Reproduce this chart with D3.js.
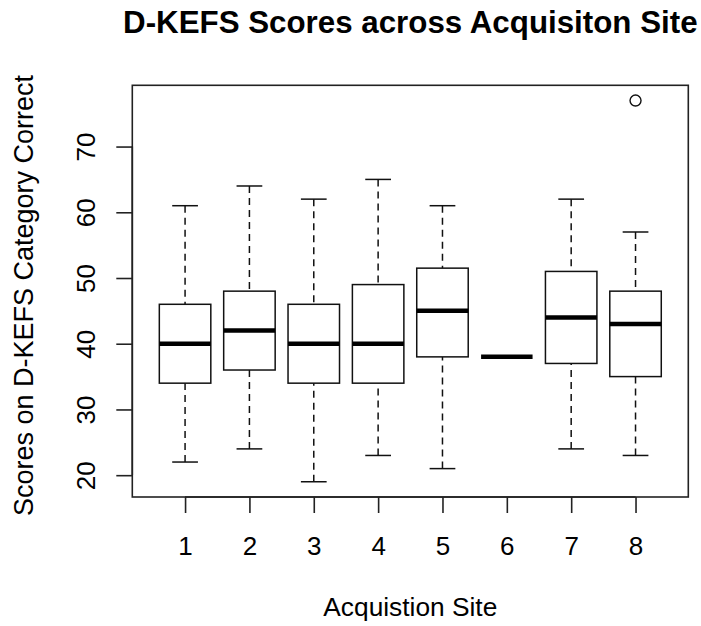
<!DOCTYPE html>
<html>
<head>
<meta charset="utf-8">
<script src="https://cdn.jsdelivr.net/npm/d3@7"></script>
<style>
  html, body { margin: 0; padding: 0; background: #fff; }
  svg { display: block; }
  text { font-family: "Liberation Sans", Arial, Helvetica, sans-serif; fill: #000; }
</style>
</head>
<body>
<svg id="chart" width="701" height="626"></svg>
<script>
// ---- data ----
const sites = ["1", "2", "3", "4", "5", "6", "7", "8"];
const lowerWhisker = [22, 24, 19, 23, 21, 38, 24, 23];
const q1 = [34, 36, 34, 34, 38, 38, 37, 35];
const median = [40, 42, 40, 40, 45, 38, 44, 43];
const q3 = [46, 48, 46, 49, 51.5, 38, 51, 48];
const upperWhisker = [61, 64, 62, 65, 61, 38, 62, 57];
const outlierSite = ["8"];
const outlierValue = [77];
const yTicks = [20, 30, 40, 50, 60, 70];
const titleText = "D-KEFS Scores across Acquisiton Site";
const xLabel = "Acquistion Site";
const yLabel = "Scores on D-KEFS Category Correct";

// ---- layout ----
const plot = { left: 132.3, right: 688.3, top: 85.3, bottom: 497 };
const svg = d3.select("#chart");

const n = sites.length;
const xPad = n * 0.04;
const x = d3.scaleLinear()
  .domain([0.5 - xPad, n + 0.5 + xPad])
  .range([plot.left, plot.right]);
const xi = i => x(i + 1);

const allVals = lowerWhisker.concat(upperWhisker, outlierValue);
const yMin = d3.min(allVals), yMax = d3.max(allVals);
const yPad = (yMax - yMin) * 0.04;
const y = d3.scaleLinear()
  .domain([yMin - yPad, yMax + yPad])
  .range([plot.bottom, plot.top]);

const boxW = x(0.8) - x(0);
const capW = x(0.4) - x(0);
const stroke = "#111";

const rows = sites.map((s, i) => ({
  site: s, i, lo: lowerWhisker[i], q1: q1[i], med: median[i], q3: q3[i], hi: upperWhisker[i]
}));

const g = svg.append("g");

// whiskers (dashed), drawn from whisker end toward box
g.selectAll(".wh-up").data(rows).join("line")
  .attr("x1", d => xi(d.i)).attr("x2", d => xi(d.i))
  .attr("y1", d => y(d.hi)).attr("y2", d => y(d.q3))
  .attr("stroke", stroke).attr("stroke-width", 1.5).attr("stroke-dasharray", "7,5");
g.selectAll(".wh-lo").data(rows).join("line")
  .attr("x1", d => xi(d.i)).attr("x2", d => xi(d.i))
  .attr("y1", d => y(d.lo)).attr("y2", d => y(d.q1))
  .attr("stroke", stroke).attr("stroke-width", 1.5).attr("stroke-dasharray", "7,5");

// caps
g.selectAll(".cap-up").data(rows).join("line")
  .attr("x1", d => xi(d.i) - capW / 2).attr("x2", d => xi(d.i) + capW / 2)
  .attr("y1", d => y(d.hi)).attr("y2", d => y(d.hi))
  .attr("stroke", stroke).attr("stroke-width", 1.5);
g.selectAll(".cap-lo").data(rows).join("line")
  .attr("x1", d => xi(d.i) - capW / 2).attr("x2", d => xi(d.i) + capW / 2)
  .attr("y1", d => y(d.lo)).attr("y2", d => y(d.lo))
  .attr("stroke", stroke).attr("stroke-width", 1.5);

// boxes
g.selectAll(".box").data(rows.filter(d => d.q3 > d.q1)).join("rect")
  .attr("x", d => xi(d.i) - boxW / 2)
  .attr("y", d => y(d.q3))
  .attr("width", boxW)
  .attr("height", d => y(d.q1) - y(d.q3))
  .attr("fill", "#fff").attr("stroke", stroke).attr("stroke-width", 1.5);

// medians
g.selectAll(".med").data(rows).join("line")
  .attr("x1", d => xi(d.i) - boxW / 2).attr("x2", d => xi(d.i) + boxW / 2)
  .attr("y1", d => y(d.med)).attr("y2", d => y(d.med))
  .attr("stroke", "#000").attr("stroke-width", 4.5);

// outliers
g.selectAll(".out").data(outlierSite.map((s, k) => ({ i: sites.indexOf(s), v: outlierValue[k] })))
  .join("circle")
  .attr("cx", d => xi(d.i)).attr("cy", d => y(d.v)).attr("r", 5.5)
  .attr("fill", "none").attr("stroke", stroke).attr("stroke-width", 1.4);

// plot frame
svg.append("rect")
  .attr("x", plot.left).attr("y", plot.top)
  .attr("width", plot.right - plot.left).attr("height", plot.bottom - plot.top)
  .attr("fill", "none").attr("stroke", "#222").attr("stroke-width", 1.6);

// y axis
const yAxis = d3.axisLeft(y).tickValues(yTicks).tickSize(16).tickPadding(21).tickSizeOuter(0);
const ya = svg.append("g").attr("transform", `translate(${plot.left},0)`).call(yAxis);
ya.select(".domain").attr("d", `M0,${y(yTicks[0])}V${y(yTicks[yTicks.length - 1])}`)
  .attr("stroke", "#222").attr("stroke-width", 1.6);
ya.selectAll(".tick line").attr("stroke", "#222").attr("stroke-width", 1.6);
ya.selectAll(".tick text")
  .attr("font-size", 26).attr("font-family", "Liberation Sans, Arial, sans-serif")
  .attr("fill", "#000")
  .attr("text-anchor", "middle")
  .attr("dy", 0)
  .attr("x", 0)
  .attr("transform", "translate(-37,0) rotate(-90)");

// x axis
const xAxis = d3.axisBottom(x).tickValues(sites.map((s, i) => i + 1))
  .tickFormat((d, k) => sites[k]).tickSize(16).tickPadding(20).tickSizeOuter(0);
const xa = svg.append("g").attr("transform", `translate(0,${plot.bottom})`).call(xAxis);
xa.select(".domain").attr("d", `M${x(1)},0H${x(n)}`).attr("stroke", "#222").attr("stroke-width", 1.6);
xa.selectAll(".tick line").attr("stroke", "#222").attr("stroke-width", 1.6);
xa.selectAll(".tick text")
  .attr("font-size", 26).attr("font-family", "Liberation Sans, Arial, sans-serif")
  .attr("fill", "#000").attr("dy", 0).attr("y", 58);

// title
svg.append("text")
  .attr("x", (plot.left + plot.right) / 2).attr("y", 33)
  .attr("text-anchor", "middle")
  .attr("font-size", 31.3).attr("font-weight", "bold")
  .text(titleText);

// axis labels
svg.append("text")
  .attr("x", (plot.left + plot.right) / 2).attr("y", 616)
  .attr("text-anchor", "middle").attr("font-size", 26.3)
  .text(xLabel);
svg.append("text")
  .attr("transform", `translate(33,295.5) rotate(-90)`)
  .attr("text-anchor", "middle").attr("font-size", 27)
  .text(yLabel);
</script>
</body>
</html>
